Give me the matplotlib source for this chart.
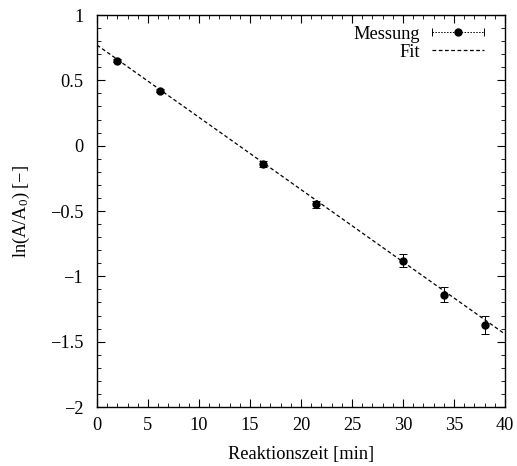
import matplotlib
matplotlib.use("Agg")
import matplotlib.pyplot as plt
import numpy as np
from matplotlib.ticker import MultipleLocator, FuncFormatter
from matplotlib.lines import Line2D
from matplotlib.legend_handler import HandlerLine2D, HandlerTuple

plt.rcParams['font.family'] = ['Liberation Serif', 'DejaVu Serif']
plt.rcParams['mathtext.fontset'] = 'custom'
plt.rcParams['mathtext.rm'] = 'Liberation Serif'
plt.rcParams['mathtext.it'] = 'Liberation Serif:italic'

# data
zeit = [2.0, 6.2, 16.3, 21.5, 30.0, 34.0, 38.0]
ln_a = [0.65, 0.42, -0.14, -0.45, -0.88, -1.14, -1.37]
fehler = [0.01, 0.01, 0.02, 0.03, 0.05, 0.06, 0.07]

# linear fit line
fit_a = 0.77
fit_b = -0.0553
fit_x = [0.0, 40.0]

fs = 13.2

fig = plt.figure(figsize=(5.17, 4.66), dpi=100)
ax = fig.add_axes([0.1876, 0.1266, 0.7892, 0.8412])

ax.errorbar(zeit, ln_a, yerr=fehler, fmt='o', color='black', ms=5,
            elinewidth=0.7, capsize=3, capthick=0.7)
fx = np.array(fit_x)
ax.plot(fx, fit_a + fit_b * fx, color='black', ls=(0, (3, 2)), lw=0.9)

ax.set_xlim(0, 40)
ax.set_ylim(-2, 1)
ax.xaxis.set_major_locator(MultipleLocator(5))
ax.xaxis.set_minor_locator(MultipleLocator(1))
ax.yaxis.set_major_locator(MultipleLocator(0.5))
ax.yaxis.set_minor_locator(MultipleLocator(0.1))
fmt = FuncFormatter(lambda v, p: ('%g' % round(v, 3)).replace('-', '\u2212'))
ax.xaxis.set_major_formatter(fmt)
ax.yaxis.set_major_formatter(fmt)
ax.tick_params(which='both', direction='in', top=True, right=True, labelsize=fs)
ax.tick_params(axis='x', pad=7)
ax.tick_params(axis='y', pad=10)
ax.tick_params(which='major', length=6)
ax.tick_params(which='minor', length=3)
for s in ax.spines.values():
    s.set_linewidth(1.0)

ax.set_xlabel('Reaktionszeit [min]', fontsize=fs, labelpad=9)
ax.set_ylabel(r'ln(A/A$_0$) [$-$]', fontsize=fs, labelpad=13)

# legend handles in gnuplot style
h_line = Line2D([], [], ls=(0, (1.5, 1.5)), lw=0.7, color='black', marker='o', ms=5)
h_caps = Line2D([], [], ls='none', marker='|', ms=6, mew=0.7, color='black')
h_fit = Line2D([], [], ls=(0, (3, 2)), lw=0.9, color='black')
ax.legend([(h_line, h_caps), h_fit], ['Messung', 'Fit'],
          handler_map={h_line: HandlerLine2D(numpoints=1),
                       h_caps: HandlerLine2D(numpoints=2, marker_pad=0.0),
                       tuple: HandlerTuple(ndivide=1, pad=0)},
          loc='upper right', bbox_to_anchor=(0.966, 0.991), borderaxespad=0,
          frameon=False, markerfirst=False, fontsize=fs,
          handlelength=2.8, handletextpad=0.7, labelspacing=0.05)

fig.savefig('out.png', dpi=100)
